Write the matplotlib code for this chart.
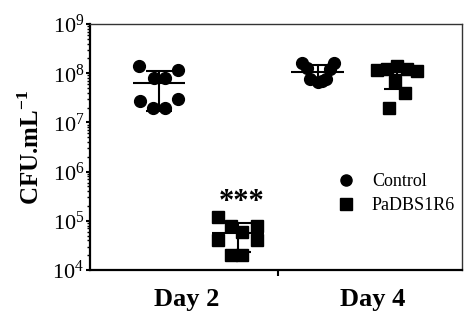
import numpy as np
import matplotlib
matplotlib.use("Agg")
import matplotlib.pyplot as plt
from matplotlib.ticker import LogLocator, NullFormatter, FuncFormatter

plt.rcParams['font.family'] = ['Liberation Serif', 'DejaVu Serif']
plt.rcParams['mathtext.fontset'] = 'custom'
plt.rcParams['mathtext.rm'] = 'Liberation Serif'
plt.rcParams['mathtext.bf'] = 'Liberation Serif:bold'

# values (CFU/mL), 8 replicates per group
control_day2 = [1.4e8, 1.15e8, 8e7, 8e7, 2.7e7, 3e7, 2e7, 2e7]
control_day4 = [1.65e8, 1.6e8, 1.25e8, 1.2e8, 7.5e7, 6.5e7, 7.5e7, 6.8e7]
padbs_day2 = [1.2e5, 8e4, 6e4, 8e4, 4e4, 4e4, 2e4, 2e4]
padbs_day4 = [1.15e8, 1.4e8, 1.1e8, 1.2e8, 1.2e8, 6.7e7, 3.9e7, 2e7]

# horizontal scatter of the dots inside each column
jitter_control_day2 = [-0.25, 0.24, -0.06, 0.08, -0.24, 0.24, -0.07, 0.08]
jitter_control_day4 = [-0.2, 0.21, -0.14, 0.15, -0.1, 0.0, 0.1, 0.05]
jitter_padbs_day2 = [-0.26, -0.09, 0.05, 0.24, -0.26, 0.24, -0.09, 0.05]
jitter_padbs_day4 = [-0.25, 0.0, 0.25, -0.13, 0.13, -0.03, 0.1, -0.1]

days = ['Day 2', 'Day 4']
labels = ['Control', 'PaDBS1R6']

fig = plt.figure(figsize=(4.65, 3.13), dpi=100)
ax = fig.add_axes([0.1935, 0.1374, 0.80, 0.7859])

groups = [
    (1, control_day2, jitter_control_day2, 'o'),
    (2, padbs_day2, jitter_padbs_day2, 's'),
    (3, control_day4, jitter_control_day4, 'o'),
    (4, padbs_day4, jitter_padbs_day4, 's'),
]

for pos, vals, jit, mk in groups:
    vals = np.array(vals)
    xs = pos + np.array(jit)
    ax.plot(xs, vals, linestyle='none', marker=mk, color='black',
            markersize=8.5, zorder=2)
    m = vals.mean()
    sd = vals.std(ddof=1)
    ax.hlines(m, pos - 0.33, pos + 0.33, color='black', lw=1.5, zorder=3)
    ax.vlines(pos, m - sd, m + sd, color='black', lw=1.5, zorder=3)
    ax.hlines([m - sd, m + sd], pos - 0.16, pos + 0.16, color='black',
              lw=1.5, zorder=3)

ax.text(2.04, 1.66e5, '***', ha='center', va='baseline', fontsize=22,
        fontweight='bold')

ax.set_yscale('log')
ax.set_ylim(1e4, 1e9)
ax.set_xlim(0.13, 4.82)

ax.yaxis.set_major_locator(LogLocator(base=10, numticks=10))
ax.yaxis.set_minor_locator(LogLocator(base=10, subs=np.arange(2, 10), numticks=20))
ax.yaxis.set_minor_formatter(NullFormatter())
ax.yaxis.set_major_formatter(FuncFormatter(
    lambda v, p: r'$\mathregular{10^{%d}}$' % round(np.log10(v))))
ax.tick_params(axis='y', which='major', direction='out', length=3, width=1.5,
               labelsize=16, pad=1)
ax.tick_params(axis='y', which='minor', direction='out', length=2.5, width=1)

ax.set_xticks([1.35, 3.7])
ax.set_xticklabels(days, fontsize=19, fontweight='bold')
ax.tick_params(axis='x', which='major', length=0, pad=13)
ax.set_xticks([2.5], minor=True)
ax.tick_params(axis='x', which='minor', direction='out', length=4, width=1.5)

ax.set_ylabel(r'CFU.mL$^{\mathbf{-1}}$', fontsize=18, fontweight='bold',
              labelpad=6)

for side in ['left', 'bottom']:
    ax.spines[side].set_linewidth(1.6)
for side in ['top', 'right']:
    ax.spines[side].set_linewidth(1.0)
    ax.spines[side].set_color('#333333')

ax.plot([], [], 'o', color='black', markersize=8, label=labels[0])
ax.plot([], [], 's', color='black', markersize=8, label=labels[1])
handles, lab = ax.get_legend_handles_labels()
ax.legend(handles[-2:], lab[-2:], loc='center left',
          bbox_to_anchor=(0.663, 0.31), frameon=False, fontsize=13,
          handlelength=1, handletextpad=0.95, borderpad=0, borderaxespad=0,
          labelspacing=0.4)

fig.savefig('out.png', dpi=100)
